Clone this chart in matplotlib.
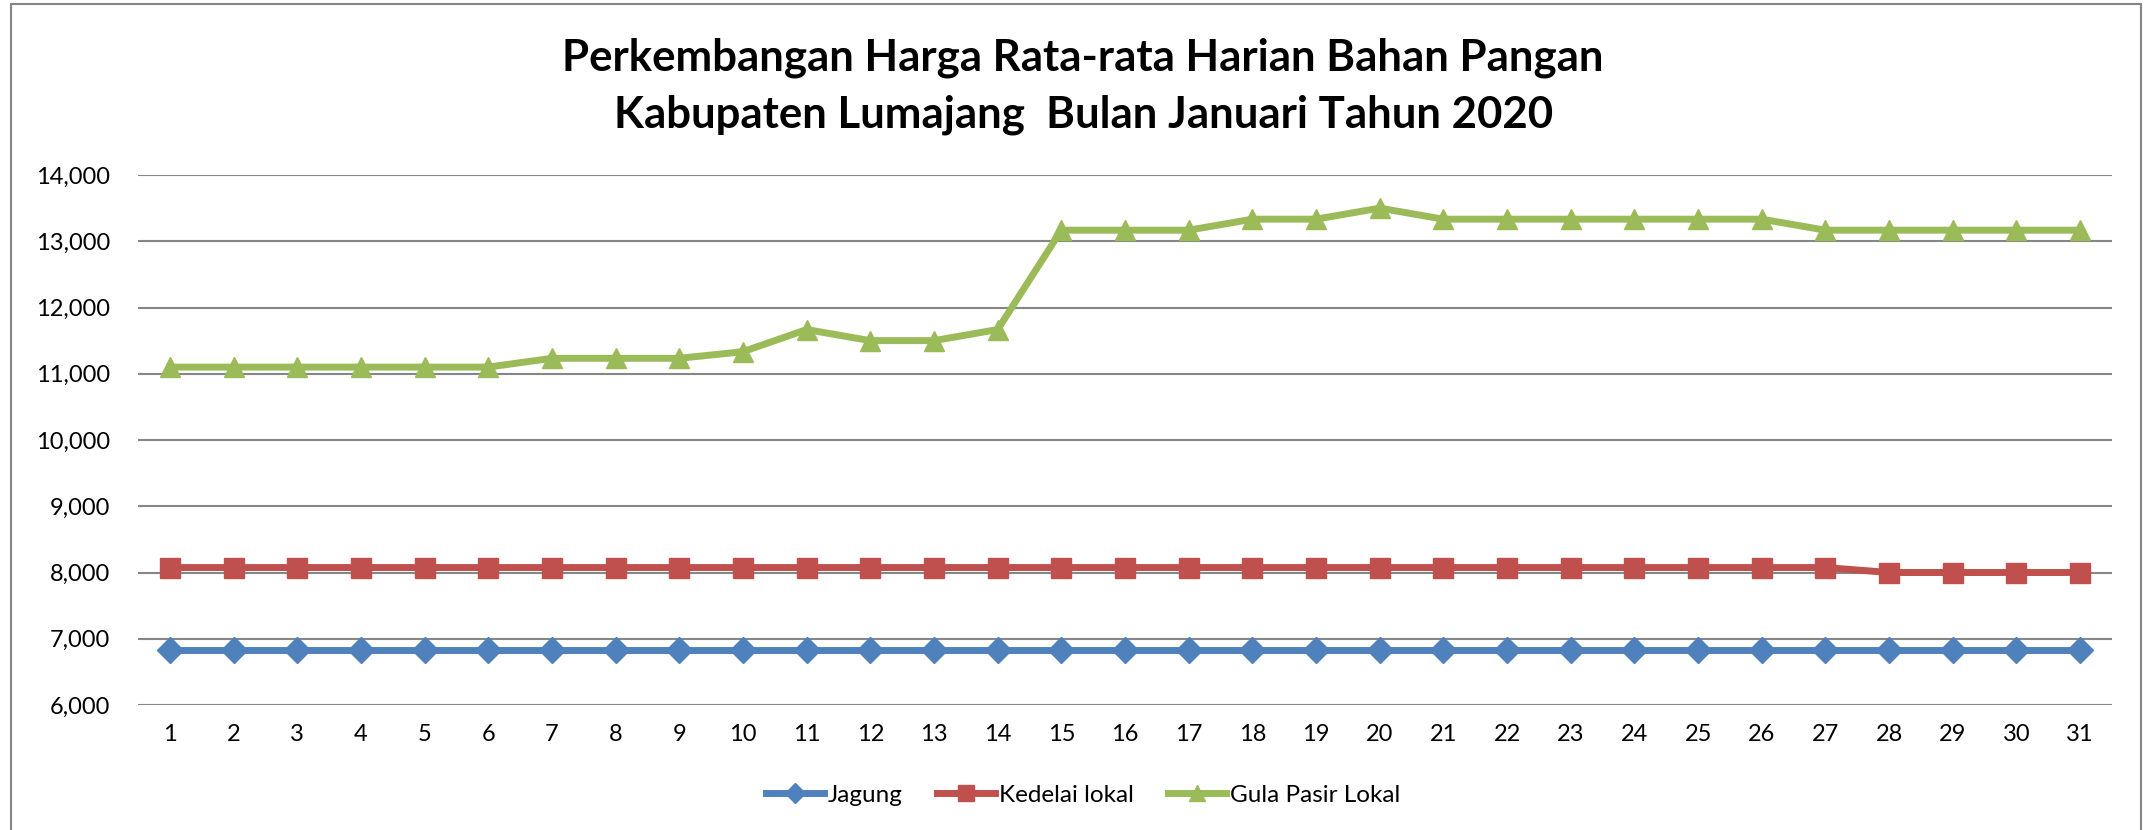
import matplotlib.pyplot as plt
from matplotlib.patches import Rectangle
from matplotlib.ticker import FuncFormatter

plt.rcParams['font.family'] = ['Lato', 'DejaVu Sans']

hari = list(range(1, 32))
jagung = [6833] * 31
kedelai = [8075] * 27 + [8000] * 4
gula = [11100, 11100, 11100, 11100, 11100, 11100, 11233, 11233, 11233, 11333,
        11667, 11500, 11500, 11667, 13167, 13167, 13167, 13333, 13333, 13500,
        13333, 13333, 13333, 13333, 13333, 13333, 13167, 13167, 13167, 13167, 13167]
nama = ['Jagung', 'Kedelai lokal', 'Gula Pasir Lokal']

fig = plt.figure(figsize=(21.49, 8.30), dpi=100)
ax = fig.add_axes([138/2149, 1-705/830, (2112-138)/2149, (705-175)/830])

ax.plot(hari, jagung, color='#4F81BD', lw=5, marker='D', ms=13, label=nama[0])
ax.plot(hari, kedelai, color='#C0504D', lw=5, marker='s', ms=14, label=nama[1])
ax.plot(hari, gula, color='#9BBB59', lw=5, marker='^', ms=15, label=nama[2])

ax.set_xlim(0.5, 31.5)
ax.set_ylim(6000, 14000)
ax.set_yticks(range(6000, 14001, 1000))
ax.set_xticks(hari)
ax.yaxis.set_major_formatter(FuncFormatter(lambda v, p: f'{int(v):,}'))
ax.grid(axis='y', color='#868686', lw=1.5)
ax.set_axisbelow(True)
for s in ax.spines.values():
    s.set_visible(False)
ax.tick_params(length=0, labelsize=17, pad=14)
ax.tick_params(axis='y', pad=20)

fig.text(0.504, 1-58/830, 'Perkembangan Harga Rata-rata Harian Bahan Pangan',
         ha='center', va='center', fontsize=31.5, fontweight='bold')
fig.text(0.504, 1-115/830, 'Kabupaten Lumajang  Bulan Januari Tahun 2020',
         ha='center', va='center', fontsize=31.5, fontweight='bold')

leg = fig.legend(loc='center', bbox_to_anchor=(1083/2149, 1-795/830), ncol=3,
                 frameon=False, fontsize=17.5, handlelength=2.4, columnspacing=1.4,
                 handletextpad=0.15, markerscale=0.8)

fig.patches.append(Rectangle((11/2149, -0.1), (2141-11)/2149, 1.1-4/830,
                             transform=fig.transFigure, fill=False,
                             edgecolor='#868686', lw=1.5))

fig.savefig('out.png', dpi=100)
